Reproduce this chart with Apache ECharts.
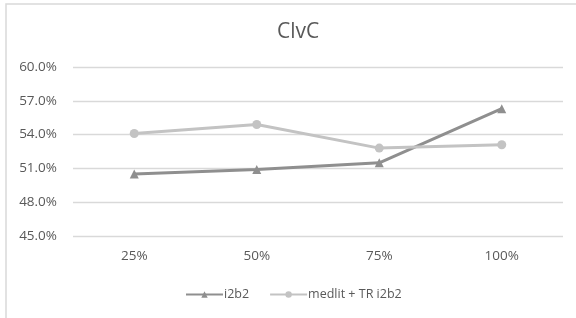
<!DOCTYPE html>
<html>
<head>
<meta charset="utf-8">
<script src="https://cdn.jsdelivr.net/npm/echarts@6/dist/echarts.min.js"></script>
<style>
  html, body { margin: 0; padding: 0; background: #fff; }
  #chart { width: 576px; height: 318px; }
</style>
</head>
<body>
<div id="chart"></div>
<script>
// chart data
var categories = ['25%', '50%', '75%', '100%'];
var seriesNames = ['i2b2', 'medlit + TR i2b2'];
var i2b2Values = [50.5, 50.9, 51.5, 56.3];
var medlitValues = [54.1, 54.9, 52.8, 53.1];
var yTicks = { min: 45, max: 60, step: 3 };

var fontName = '"Open Sans", "Liberation Sans", sans-serif';
var labelColor = '#595959';

var chart = echarts.init(document.getElementById('chart'));

var option = {
    backgroundColor: '#fff',
    animation: false,
    title: {
        text: 'ClvC',
        left: 272,
        top: 17,
        textStyle: { color: labelColor, fontSize: 21, fontWeight: 'normal', fontFamily: fontName }
    },
    legend: {
        data: seriesNames,
        left: 180,
        top: 283,
        itemWidth: 37,
        itemHeight: 8,
        itemGap: 20,
        textStyle: { color: labelColor, fontSize: 12.5, fontFamily: fontName, padding: [0, 0, 0, -4] }
    },
    grid: { left: 73, right: 13, top: 67, bottom: 82 },
    xAxis: {
        type: 'category',
        data: categories,
        axisLine: { show: false },
        axisTick: { show: false },
        axisLabel: { color: labelColor, fontSize: 13.5, fontFamily: fontName, margin: 13 }
    },
    yAxis: {
        type: 'value',
        min: yTicks.min,
        max: yTicks.max,
        interval: yTicks.step,
        axisLine: { show: false },
        axisTick: { show: false },
        splitLine: { lineStyle: { color: '#d9d9d9', width: 1.3 } },
        axisLabel: {
            color: labelColor, fontSize: 13.5, fontFamily: fontName, margin: 16,
            formatter: function (v) { return v.toFixed(1) + '%'; }
        }
    },
    series: [
        {
            name: seriesNames[0],
            type: 'line',
            data: i2b2Values,
            symbol: 'triangle',
            symbolSize: 9,
            itemStyle: { color: '#8f8f8f' },
            lineStyle: { color: '#8f8f8f', width: 3 }
        },
        {
            name: seriesNames[1],
            type: 'line',
            data: medlitValues,
            symbol: 'circle',
            symbolSize: 9,
            itemStyle: { color: '#c3c3c3' },
            lineStyle: { color: '#c3c3c3', width: 3 }
        }
    ],
    graphic: [
        {
            type: 'rect',
            shape: { x: 6, y: 4, width: 600, height: 340 },
            style: { fill: 'none', stroke: '#d9d9d9', lineWidth: 1.5 },
            silent: true
        }
    ]
};

chart.setOption(option);
</script>
</body>
</html>
